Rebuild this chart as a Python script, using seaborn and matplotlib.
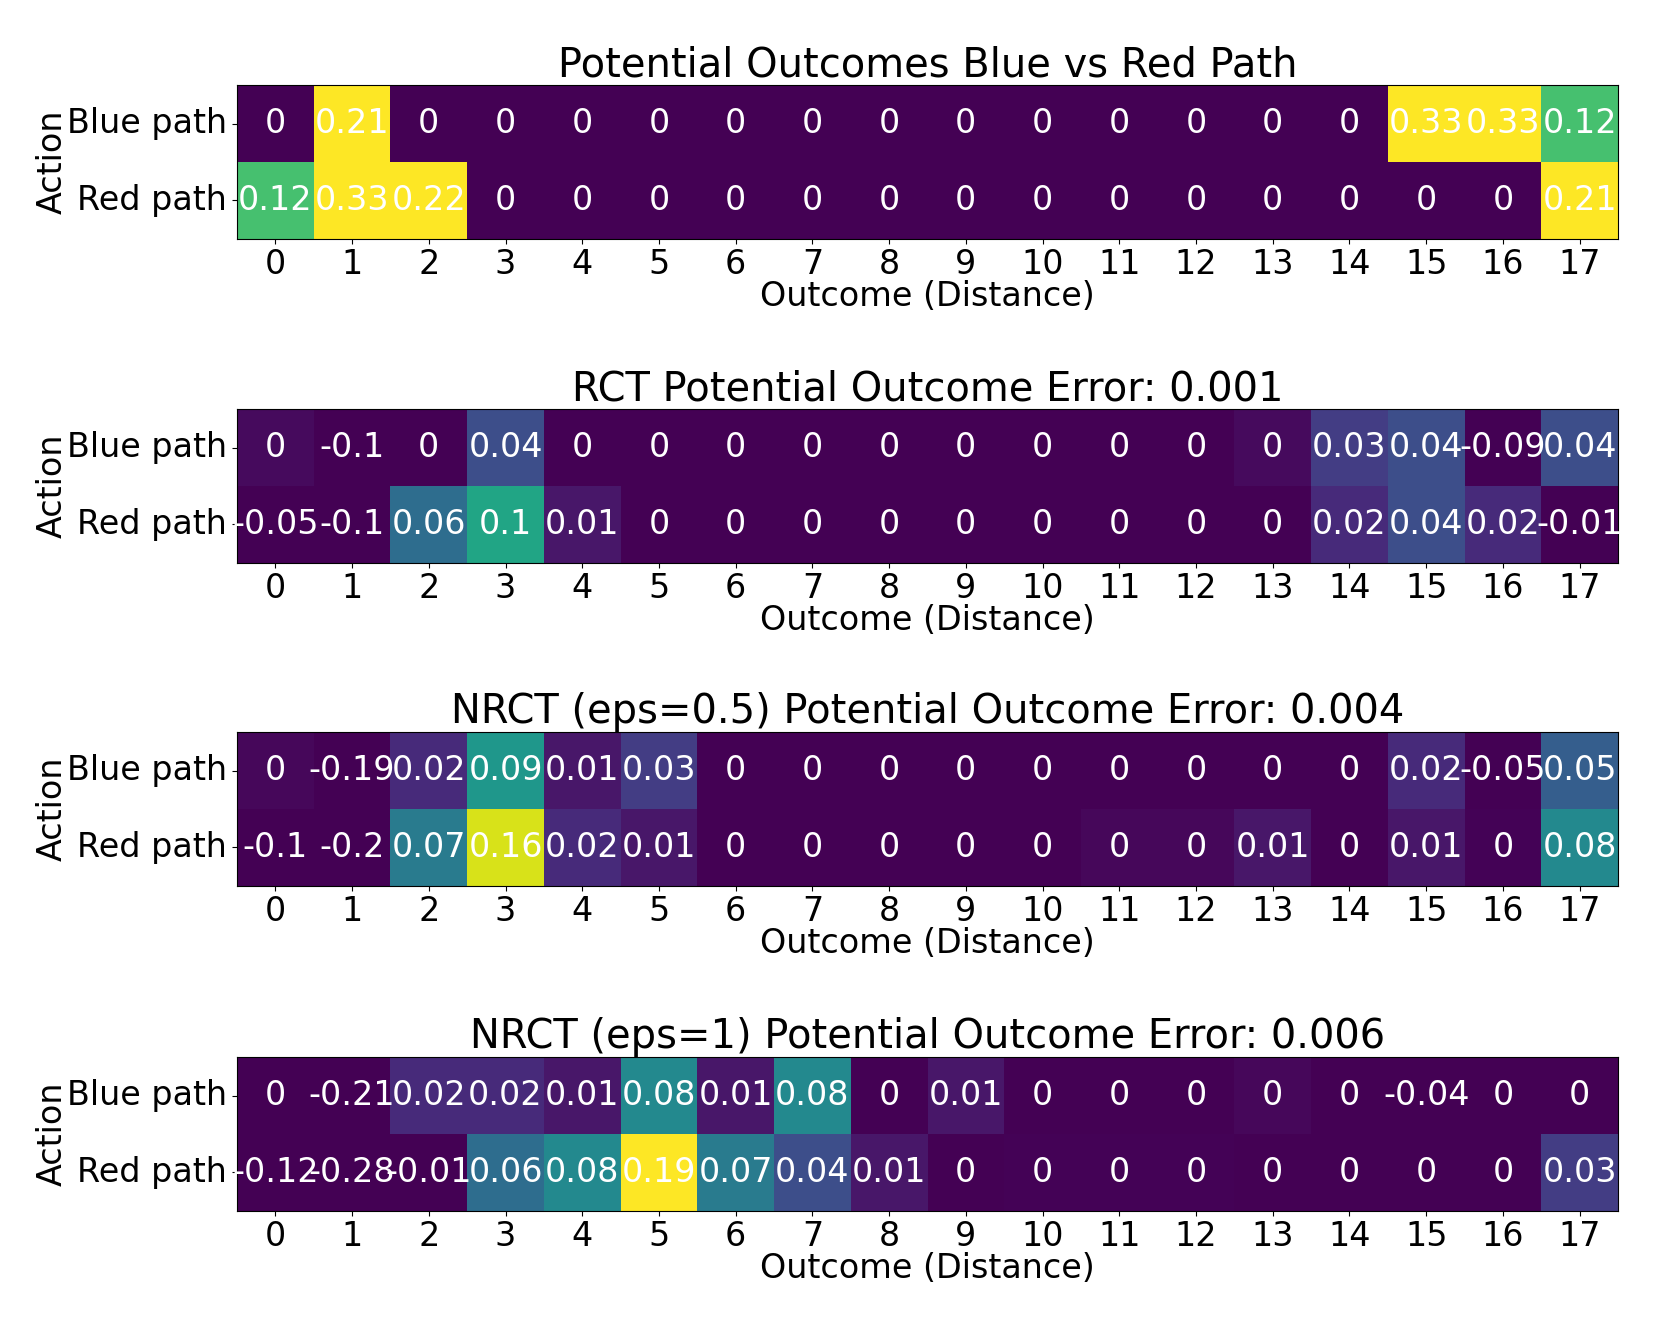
import numpy as np
import seaborn as sns
import matplotlib
matplotlib.use("Agg")
import matplotlib.pyplot as plt

outcomes = list(range(18))
actions = ["Blue path", "Red path"]

titles = [
    "Potential Outcomes Blue vs Red Path",
    "RCT Potential Outcome Error: 0.001",
    "NRCT (eps=0.5) Potential Outcome Error: 0.004",
    "NRCT (eps=1) Potential Outcome Error: 0.006",
]

true_blue = [0, 0.21, 0, 0, 0, 0, 0, 0, 0, 0, 0, 0, 0, 0, 0, 0.33, 0.33, 0.12]
true_red = [0.12, 0.33, 0.22, 0, 0, 0, 0, 0, 0, 0, 0, 0, 0, 0, 0, 0, 0, 0.21]

rct_blue = [0.004, -0.1, 0, 0.04, 0, 0, 0, 0, 0, 0, 0, 0, 0, 0.004, 0.03, 0.04, -0.09, 0.04]
rct_red = [-0.05, -0.1, 0.06, 0.1, 0.01, 0, 0, 0, 0, 0, 0, 0, 0, 0, 0.02, 0.04, 0.02, -0.01]

nrct05_blue = [0.003, -0.19, 0.02, 0.09, 0.01, 0.03, 0, 0, 0, 0, 0, 0, 0, 0, 0, 0.02, -0.05, 0.05]
nrct05_red = [-0.1, -0.2, 0.07, 0.16, 0.02, 0.01, 0, 0, 0, 0, 0, 0.003, 0.003, 0.01, 0, 0.01, 0.001, 0.08]

nrct1_blue = [0, -0.21, 0.02, 0.02, 0.01, 0.08, 0.01, 0.08, 0, 0.01, 0, 0, 0, 0.003, 0, -0.04, 0, 0]
nrct1_red = [-0.12, -0.28, -0.01, 0.06, 0.08, 0.19, 0.07, 0.04, 0.01, 0, 0.001, 0.001, 0.001, 0, 0, 0, 0, 0.03]

panels = [
    (true_blue, true_red),
    (rct_blue, rct_red),
    (nrct05_blue, nrct05_red),
    (nrct1_blue, nrct1_red),
]

plt.rcParams['font.size'] = 24

fig = plt.figure(figsize=(16.61, 13.29), dpi=100)
bottoms = [0.8202, 0.5764, 0.3333, 0.0888]

for (blue, red), title, bottom in zip(panels, titles, bottoms):
    ax = fig.add_axes([0.1427, bottom, 0.8314, 0.1159])
    values = np.array([blue, red])
    labels = np.round(values, 2) + 0.0
    sns.heatmap(values, ax=ax, cmap="viridis", vmin=0, vmax=0.17,
                annot=labels, fmt="g", annot_kws={"color": "white", "size": 24},
                cbar=False, square=True,
                xticklabels=outcomes, yticklabels=actions)
    for side in ax.spines.values():
        side.set_visible(True)
        side.set_linewidth(0.8)
    ax.tick_params(axis="both", labelsize=24)
    ax.set_yticklabels(actions, rotation=0)
    ax.set_xticklabels(outcomes, rotation=0)
    ax.set_title(title, fontsize=28.8, pad=5)
    ax.set_xlabel("Outcome (Distance)", labelpad=-1)
    ax.set_ylabel("Action", labelpad=-1)

fig.savefig("out.png", dpi=100)
